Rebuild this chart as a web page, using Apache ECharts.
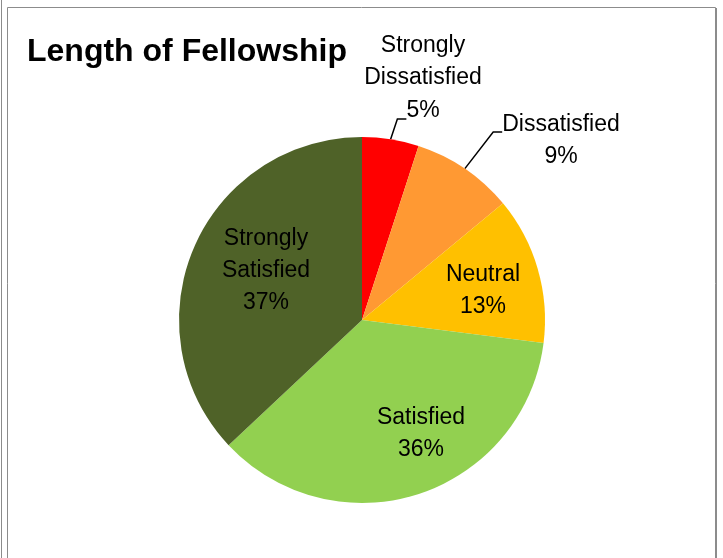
<!DOCTYPE html>
<html>
<head>
<meta charset="utf-8">
<script src="https://cdn.jsdelivr.net/npm/echarts@6/dist/echarts.min.js"></script>
<style>
html,body{margin:0;padding:0;background:#fff;}
#c{width:723px;height:558px;}
</style>
</head>
<body>
<div id="c"></div>
<script>
const title = 'Length of Fellowship';
const categories = ['Strongly Dissatisfied', 'Dissatisfied', 'Neutral', 'Satisfied', 'Strongly Satisfied'];
const labelText = ['Strongly\nDissatisfied', 'Dissatisfied', 'Neutral', 'Satisfied', 'Strongly\nSatisfied'];
const values = [5, 9, 13, 36, 37];
const colors = ['#FF0000', '#FF9933', '#FFC000', '#92D050', '#4F6228'];

// label placement (layout only)
const labelPos = [[423, 119], [561, 132], [483, 291], [421, 434], [266, 271]];
const namePos = [423, 62]; // name part of first label (placed separately so the leader line meets "5%")
const outside = [true, true, false, false, false];

const font = {fontFamily: 'Liberation Sans', fontSize: 23, lineHeight: 32, color: '#000'};
const spacer = {s1: {lineHeight: 16, fontSize: 2}, s2: {lineHeight: 17, fontSize: 2}};

function mainLabel(p) {
  const i = p.dataIndex;
  const pct = Math.round(p.value) + '%';
  if (i === 0) return pct + '\n{s1| }';
  if (i === 1) return '{s2| }\n' + labelText[i] + '\n' + pct;
  return labelText[i] + '\n' + pct;
}

const chart = echarts.init(document.getElementById('c'), null, {renderer: 'canvas'});
const data = categories.map((c, i) => ({
  name: c,
  value: values[i],
  itemStyle: {color: colors[i]},
  label: {position: outside[i] ? 'outside' : 'inside'},
  labelLine: {show: outside[i]}
}));
const nameData = categories.map((c, i) => ({
  name: c,
  value: values[i],
  label: {show: i === 0},
  labelLine: {show: false}
}));

chart.setOption({
  backgroundColor: '#fff',
  animation: false,
  title: {
    text: title,
    left: 22, top: 31,
    textStyle: {fontFamily: 'Liberation Sans', fontWeight: 'bold', fontSize: 32, color: '#000'}
  },
  graphic: [
    {type: 'line', shape: {x1: 1.5, y1: 0, x2: 1.5, y2: 558}, style: {stroke: '#8c8c8c', lineWidth: 1}},
    {type: 'rect', shape: {x: 7.5, y: 7.5, width: 708, height: 600}, style: {fill: null, stroke: '#8c8c8c', lineWidth: 1}},
    {type: 'line', shape: {x1: 716.5, y1: 8, x2: 716.5, y2: 558}, style: {stroke: '#8c8c8c', lineWidth: 1}}
  ],
  series: [{
    type: 'pie',
    center: [362, 320],
    radius: 183,
    startAngle: 90,
    clockwise: true,
    data: data,
    itemStyle: {borderWidth: 0},
    label: Object.assign({
      show: true,
      formatter: mainLabel,
      align: 'center',
      rich: spacer
    }, font),
    labelLine: {
      length: 15, length2: 9,
      lineStyle: {color: '#000', width: 1.5}
    },
    labelLayout: p => ({
      x: labelPos[p.dataIndex][0],
      y: labelPos[p.dataIndex][1],
      align: 'center',
      verticalAlign: 'middle'
    })
  }, {
    type: 'pie',
    silent: true,
    center: [362, 320],
    radius: 183,
    startAngle: 90,
    clockwise: true,
    data: nameData,
    itemStyle: {color: 'rgba(0,0,0,0)', borderWidth: 0},
    label: Object.assign({
      position: 'outside',
      formatter: p => labelText[p.dataIndex],
      align: 'center'
    }, font),
    labelLayout: p => ({
      x: namePos[0],
      y: namePos[1],
      align: 'center',
      verticalAlign: 'middle'
    })
  }]
});
</script>
</body>
</html>
